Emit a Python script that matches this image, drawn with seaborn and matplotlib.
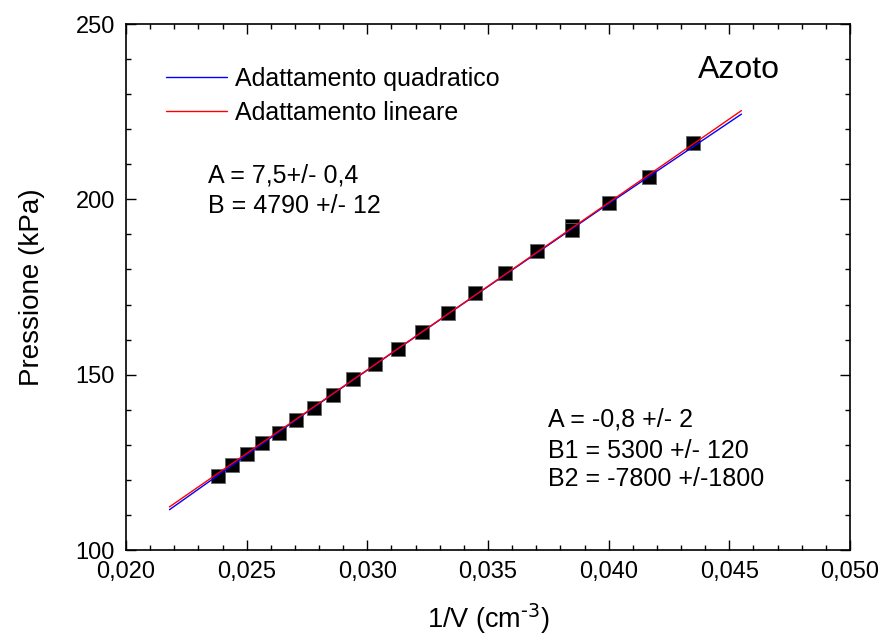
import numpy as np
import pandas as pd
import matplotlib
matplotlib.use('Agg')
import matplotlib.pyplot as plt
import seaborn as sns
from matplotlib.ticker import MultipleLocator, FixedLocator, FixedFormatter

# dati misurati (1/V, pressione)
inv_v = [0.02381, 0.02439, 0.02500, 0.02564, 0.02632, 0.02703, 0.02778, 0.02857,
         0.02941, 0.03030, 0.03125, 0.03226, 0.03333, 0.03448, 0.03571, 0.03704,
         0.03846, 0.03846, 0.04000, 0.04167, 0.04348]
pressione = [121.2, 124.2, 127.3, 130.4, 133.4, 137.2, 140.4, 144.3,
             148.7, 153.0, 157.4, 162.3, 167.7, 173.2, 179.1, 185.3,
             192.5, 191.3, 199.0, 206.4, 216.0]

# curve di adattamento
quad_x = [0.0218, 0.0277, 0.0336, 0.0396, 0.0455]
quad_y = [111.5, 140.3, 168.5, 196.9, 224.3]
lin_x = [0.0218, 0.0455]
lin_y = [112.3, 225.3]

x_ticks = [0.020, 0.025, 0.030, 0.035, 0.040, 0.045, 0.050]
x_tick_labels = ['0,020', '0,025', '0,030', '0,035', '0,040', '0,045', '0,050']
y_ticks = [100, 150, 200, 250]

sns.set_style('ticks')
plt.rcParams['font.family'] = ['Liberation Sans', 'DejaVu Sans']
plt.rcParams['mathtext.default'] = 'regular'
plt.rcParams['text.color'] = 'black'
plt.rcParams['axes.labelcolor'] = 'black'
plt.rcParams['xtick.color'] = 'black'
plt.rcParams['ytick.color'] = 'black'

df = pd.DataFrame({'x': inv_v, 'y': pressione})
df_quad = pd.DataFrame({'x': quad_x, 'y': quad_y})
df_lin = pd.DataFrame({'x': lin_x, 'y': lin_y})

fig = plt.figure(figsize=(8.87, 6.4), dpi=100)
ax = fig.add_axes([0.1421, 0.1406, 0.8162, 0.8219])

sns.scatterplot(data=df, x='x', y='y', marker='s', s=90, color='black',
                edgecolor='#666666', linewidth=0.6, ax=ax, zorder=2)
sns.lineplot(data=df_quad, x='x', y='y', color='#0000ff', lw=1,
             label='Adattamento quadratico', ax=ax, zorder=3)
sns.lineplot(data=df_lin, x='x', y='y', color='#ff0000', lw=1,
             label='Adattamento lineare', ax=ax, zorder=4)

ax.set_xlim(0.020, 0.050)
ax.set_ylim(100, 250)
ax.xaxis.set_major_locator(FixedLocator(x_ticks))
ax.xaxis.set_major_formatter(FixedFormatter(x_tick_labels))
ax.xaxis.set_minor_locator(MultipleLocator(0.001))
ax.yaxis.set_major_locator(FixedLocator(y_ticks))
ax.yaxis.set_minor_locator(MultipleLocator(10))

ax.tick_params(which='both', direction='in', top=True, right=True,
               color='black', width=1)
ax.tick_params(which='major', length=7.5, labelsize=17, pad=8)
ax.tick_params(which='minor', length=3.8)
for s in ax.spines.values():
    s.set_color('black')
    s.set_linewidth(1.2)

ax.set_xlabel(r'1/V (cm$^{\text{-3}}$)', fontsize=19.5, labelpad=13)
ax.set_ylabel('Pressione (kPa)', fontsize=20, labelpad=22)

ax.legend(loc='upper left', bbox_to_anchor=(0.0552, 0.919), frameon=False,
          fontsize=18, handlelength=2.45, handletextpad=0.32, labelspacing=0.4,
          borderpad=0, borderaxespad=0)

ax.text(0.1133, 0.6996, 'A = 7,5+/- 0,4', transform=ax.transAxes, fontsize=18, va='baseline')
ax.text(0.1133, 0.6407, 'B = 4790 +/- 12', transform=ax.transAxes, fontsize=18, va='baseline')
ax.text(0.5829, 0.2357, 'A = -0,8 +/- 2', transform=ax.transAxes, fontsize=18, va='baseline')
ax.text(0.5829, 0.1749, 'B1 = 5300 +/- 120', transform=ax.transAxes, fontsize=18, va='baseline')
ax.text(0.5829, 0.1217, 'B2 = -7800 +/-1800', transform=ax.transAxes, fontsize=18, va='baseline')
ax.text(0.790, 0.8973, 'Azoto', transform=ax.transAxes, fontsize=23, va='baseline')

fig.savefig('out.png', dpi=100)
